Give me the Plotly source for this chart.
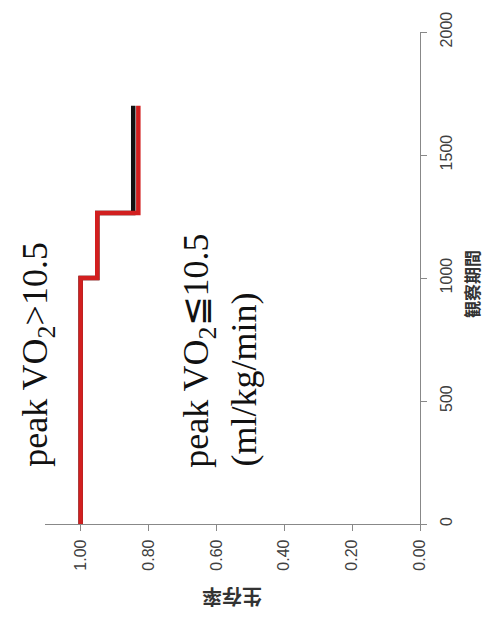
import plotly.graph_objects as go

# Kaplan-Meier survival by peak VO2 group (chart drawn turned a quarter turn)
days = [0, 1000, 1264, 1700]
surv_low = [1.00, 0.951, 0.845, 0.845]    # peak VO2 <= 10.5
surv_high = [1.00, 0.951, 0.830, 0.830]   # peak VO2 > 10.5

surv_ticks = [1.0, 0.8, 0.6, 0.4, 0.2, 0.0]
surv_labels = ["1.00", "0.80", "0.60", "0.40", "0.20", "0.00"]
day_ticks = [0, 500, 1000, 1500, 2000]
day_labels = ["0", "500", "1000", "1500", "2000"]

fig = go.Figure()
fig.add_trace(go.Scatter(x=surv_low, y=days, mode="lines", line_shape="vh",
                         line=dict(color="#111111", width=4.5), showlegend=False))
fig.add_trace(go.Scatter(x=surv_high, y=days, mode="lines", line_shape="vh",
                         line=dict(color="#d21f1f", width=4.5), showlegend=False))

L, R, T, B = 45, 65, 30, 93
W, H = 485, 617
pw, ph = W - L - R, H - T - B


def paper(xp, yp):
    return (xp - L) / pw, (H - B - yp) / ph


tick_font = dict(family="Liberation Sans, Arial, sans-serif", size=16, color="#404040")
serif = "Liberation Serif, Times New Roman, serif"
sub2 = "<sub><span style='font-size:26px'>2</span></sub>"

fig.update_layout(
    width=W, height=H,
    margin=dict(l=L, r=R, t=T, b=B),
    paper_bgcolor="white", plot_bgcolor="white",
    xaxis=dict(range=[1.105, 0], tickvals=surv_ticks, ticktext=surv_labels,
               tickangle=-90, ticks="outside", ticklen=6, tickcolor="#888",
               showline=True, linecolor="#888", linewidth=1.3, ticklabelstandoff=2,
               showgrid=False, zeroline=False, tickfont=tick_font),
    yaxis=dict(range=[0, 2000], side="right", tickvals=day_ticks, ticktext=day_labels,
               tickangle=-90, ticks="outside", ticklen=6, tickcolor="#888",
               showline=True, linecolor="#888", linewidth=1.3, ticklabelstandoff=6,
               showgrid=False, zeroline=False, tickfont=tick_font),
)

annots = [
    ("peak VO" + sub2 + "&gt;10.5", 38, 354, -90, serif, 36, "#111"),
    ("peak VO" + sub2 + "≦10.5", 199, 350, -90, serif, 36, "#111"),
    ("(ml/kg/min)", 244, 379, -90, serif, 36, "#111"),
    ("<b>生存率</b>", 232, 598, 180, "Noto Sans CJK JP", 20, "#333"),
    ("<b>観察期間</b>", 472, 283, -90, "Noto Sans CJK JP", 17, "#333"),
]
for text, xp, yp, ang, fam, size, col in annots:
    ax, ay = paper(xp, yp)
    fig.add_annotation(text=text, x=ax, y=ay, xref="paper", yref="paper",
                       xanchor="center", yanchor="middle", showarrow=False,
                       textangle=ang, font=dict(family=fam, size=size, color=col))

fig.write_html("out.html")
